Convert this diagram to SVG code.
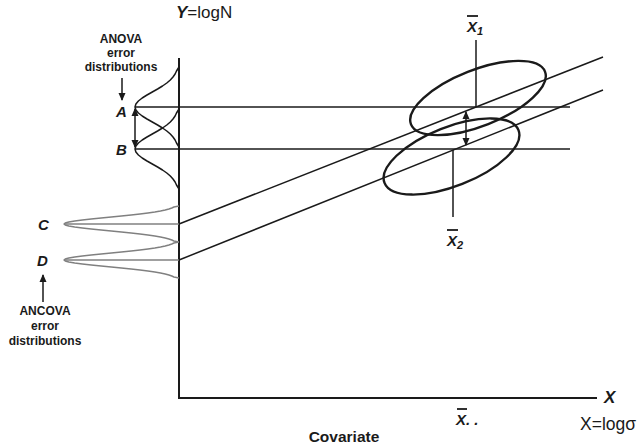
<svg xmlns="http://www.w3.org/2000/svg" width="641" height="446" viewBox="0 0 641 446">
<style>
.ln{stroke:#1a1a1a;stroke-width:1.5;fill:none}
.ax{stroke:#1a1a1a;stroke-width:2;fill:none}
.el{stroke:#1a1a1a;stroke-width:2.4;fill:none}
.gs{stroke:#808080;stroke-width:1.4;fill:none;stroke-linejoin:round}
.ga{stroke:#1a1a1a;stroke-width:1.5;fill:none;stroke-linejoin:round}
.bi{font-family:"Liberation Sans",Arial,sans-serif;font-weight:bold;font-style:italic;fill:#1a1a1a}
.b{font-family:"Liberation Sans",Arial,sans-serif;font-weight:bold;fill:#1a1a1a}
.n{font-family:"Liberation Sans",Arial,sans-serif;fill:#1a1a1a}
.ob{stroke:#1a1a1a;stroke-width:1.8}
</style>
<defs>
<marker id="ah" markerWidth="8" markerHeight="8" refX="7" refY="4" orient="auto-start-reverse" markerUnits="userSpaceOnUse">
<path d="M0,0.5 L8,4 L0,7.5 Z" fill="#1a1a1a"/>
</marker>
</defs>
<rect width="641" height="446" fill="#ffffff"/>

<g id="axes">
<path class="ax" d="M179,58 V398 H597"/>
</g>

<g id="connectors">
<line class="ln" x1="135" y1="107" x2="570" y2="107"/>
<line class="ln" x1="135" y1="149" x2="570" y2="149"/>
<line class="gs" x1="64" y1="224" x2="179" y2="224"/>
<line class="gs" x1="64" y1="260" x2="179" y2="260"/>
<line class="ln" x1="179" y1="224" x2="603" y2="57"/>
<line class="ln" x1="179" y1="260" x2="603" y2="90"/>
<line class="ln" x1="476" y1="40" x2="476" y2="107"/>
<line class="ln" x1="453" y1="150" x2="453" y2="217"/>
<line class="ln" x1="466" y1="112" x2="466" y2="145" marker-start="url(#ah)" marker-end="url(#ah)"/>
<line class="ln" x1="135" y1="109" x2="135" y2="147" marker-start="url(#ah)" marker-end="url(#ah)"/>
<line class="ln" x1="122" y1="78" x2="122" y2="100" marker-end="url(#ah)"/>
<line class="ln" x1="43" y1="302" x2="43" y2="275" marker-end="url(#ah)"/>
</g>

<g id="anova-distributions">
<polyline class="ga" points="179,67 176.5,71 175.1,74 173,77 170.3,80 166.8,83 162.5,86 157.6,89 152.3,92 147,95 142.2,98 138.4,101 135.9,104 135,107 135.9,110 138.4,113 142.2,116 147,119 152.3,122 157.6,125 162.5,128 166.8,131 170.3,134 173,137 175.1,140 176.5,143 179,147"/>
<polyline class="ga" points="179,109 176.5,113 175.1,116 173,119 170.3,122 166.8,125 162.5,128 157.6,131 152.3,134 147,137 142.2,140 138.4,143 135.9,146 135,149 135.9,152 138.4,155 142.2,158 147,161 152.3,164 157.6,167 162.5,170 166.8,173 170.3,176 173,179 175.1,182 176.5,185 179,189"/>
</g>

<g id="ancova-distributions">
<polyline class="gs" points="179,206 173.9,207 171.8,208 168.9,209 165.2,210 160.5,211 154.8,212 147.9,213 140,214 131.1,215 121.4,216 111.3,217 101.1,218 91.2,219 82.3,220 74.7,221 68.8,222 65.2,223 64,224 65.2,225 68.8,226 74.7,227 82.3,228 91.2,229 101.1,230 111.3,231 121.4,232 131.1,233 140,234 147.9,235 154.8,236 160.5,237 165.2,238 168.9,239 171.8,240 173.9,241 179,242"/>
<polyline class="gs" points="179,242 173.9,243 171.8,244 168.9,245 165.2,246 160.5,247 154.8,248 147.9,249 140,250 131.1,251 121.4,252 111.3,253 101.1,254 91.2,255 82.3,256 74.7,257 68.8,258 65.2,259 64,260 65.2,261 68.8,262 74.7,263 82.3,264 91.2,265 101.1,266 111.3,267 121.4,268 131.1,269 140,270 147.9,271 154.8,272 160.5,273 165.2,274 168.9,275 171.8,276 173.9,277 179,278"/>
</g>

<g id="ellipse-1">
<ellipse class="el" cx="478" cy="98" rx="72" ry="28" transform="rotate(-21.5 478 98)"/>
</g>
<g id="ellipse-2">
<ellipse class="el" cx="451.5" cy="156.5" rx="72" ry="29.5" transform="rotate(-21.5 451.5 156.5)"/>
</g>

<g id="label-y">
<text x="176" y="17.5" font-size="17"><tspan class="bi">Y</tspan><tspan class="n">=logN</tspan></text>
</g>
<g id="label-anova">
<text class="b" font-size="12" text-anchor="middle"><tspan x="121" y="43">ANOVA</tspan><tspan x="121" y="57">error</tspan><tspan x="121" y="71">distributions</tspan></text>
</g>
<g id="label-ancova">
<text class="b" font-size="12" text-anchor="middle"><tspan x="45" y="315">ANCOVA</tspan><tspan x="45" y="330">error</tspan><tspan x="45" y="345">distributions</tspan></text>
</g>
<g id="label-abcd">
<text class="bi" font-size="15" x="116" y="117">A</text>
<text class="bi" font-size="15" x="116" y="155">B</text>
<text class="bi" font-size="15" x="38" y="230">C</text>
<text class="bi" font-size="15" x="37" y="266">D</text>
</g>
<g id="label-x1">
<line class="ob" x1="467" y1="16" x2="478" y2="16"/>
<text x="467" y="32"><tspan class="bi" font-size="15">X</tspan><tspan class="bi" font-size="11" dy="3">1</tspan></text>
</g>
<g id="label-x2">
<line class="ob" x1="447" y1="230" x2="458" y2="230"/>
<text x="447" y="246"><tspan class="bi" font-size="15">X</tspan><tspan class="bi" font-size="11" dy="3">2</tspan></text>
</g>
<g id="label-xbar">
<line class="ob" x1="457" y1="409" x2="467" y2="409"/>
<text class="bi" font-size="15" x="456" y="425">X. .</text>
</g>
<g id="label-x-axis">
<text class="bi" font-size="17" x="604" y="403">X</text>
<text class="n" font-size="17.5" x="580" y="430">X=logσ</text>
</g>
<g id="label-covariate">
<text class="b" font-size="15.5" x="344" y="442" text-anchor="middle">Covariate</text>
</g>
</svg>
